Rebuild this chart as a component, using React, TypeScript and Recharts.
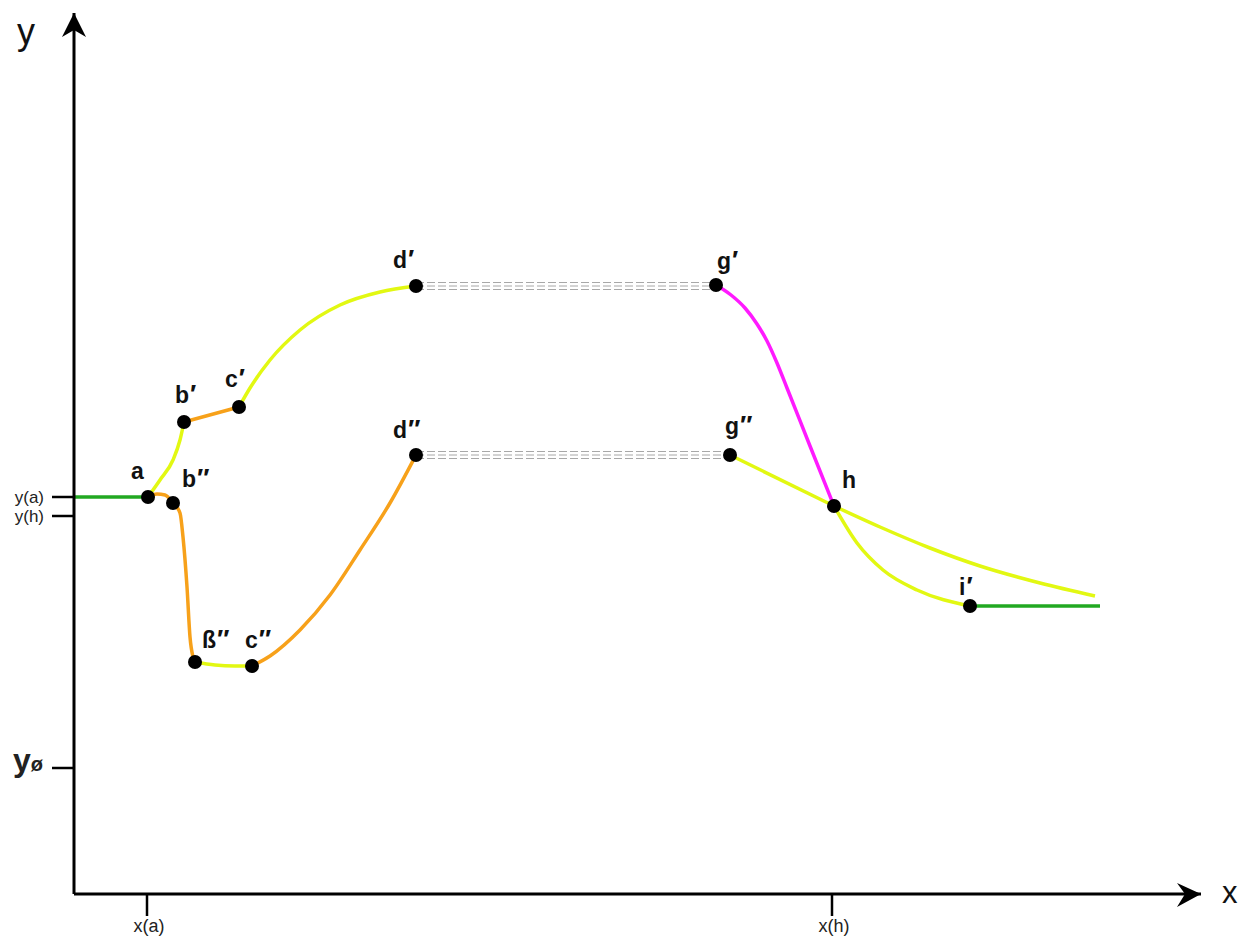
import { ComposedChart, Line, XAxis, YAxis, ReferenceDot } from 'recharts'

// Units are pixels of the drawing, origin just inside the corner of the two axes.
const xTicks = [72, 757]
const xTickLabels = ['x(a)', 'x(h)']
const yTicks = [125, 377, 396]
const yTickLabels = ['yø', 'y(h)', 'y(a)']

const greenStart = [{ x: 0, y: 396 }, { x: 73, y: 396 }]
const aToB1 = [{ x: 73, y: 396 }, { x: 85, y: 413 }, { x: 98, y: 433 }, { x: 105, y: 453 }, { x: 109, y: 471 }]
const b1ToC1 = [{ x: 109, y: 471 }, { x: 164, y: 486 }]
const c1ToD1 = [{ x: 164, y: 486 }, { x: 175, y: 505 }, { x: 195, y: 533 }, { x: 225, y: 563 }, { x: 265, y: 588 }, { x: 305, y: 601 }, { x: 341, y: 607 }]
const aToBeta2 = [
  { x: 73, y: 396 }, { x: 82, y: 399 }, { x: 90, y: 398 }, { x: 98, y: 390 }, { x: 105, y: 380 },
  { x: 108, y: 356 }, { x: 112, y: 306 }, { x: 115, y: 256 }, { x: 118, y: 236 }, { x: 120, y: 231 },
]
const beta2ToC2 = [{ x: 120, y: 231 }, { x: 140, y: 228 }, { x: 160, y: 227 }, { x: 177, y: 227 }]
const c2ToD2 = [{ x: 177, y: 227 }, { x: 195, y: 237 }, { x: 225, y: 263 }, { x: 255, y: 298 }, { x: 285, y: 343 }, { x: 315, y: 390 }, { x: 341, y: 438 }]
const plateauUpper = [
  [{ x: 341, y: 610.5 }, { x: 641, y: 610.5 }],
  [{ x: 341, y: 607 }, { x: 641, y: 607 }],
  [{ x: 341, y: 603.5 }, { x: 641, y: 603.5 }],
]
const plateauLower = [
  [{ x: 341, y: 441.5 }, { x: 655, y: 441.5 }],
  [{ x: 341, y: 438 }, { x: 655, y: 438 }],
  [{ x: 341, y: 434.5 }, { x: 655, y: 434.5 }],
]
const g1ToH = [
  { x: 641, y: 608 }, { x: 656, y: 598 }, { x: 670, y: 585 }, { x: 682, y: 569 }, { x: 692, y: 552 },
  { x: 702, y: 530 }, { x: 712, y: 505 }, { x: 735, y: 447 }, { x: 759, y: 387 },
]
const g2ToH = [{ x: 655, y: 438 }, { x: 759, y: 387 }]
const hTail = [{ x: 759, y: 387 }, { x: 805, y: 366 }, { x: 855, y: 345 }, { x: 905, y: 327 }, { x: 965, y: 310 }, { x: 1020, y: 297 }]
const hToI1 = [{ x: 759, y: 387 }, { x: 782, y: 350 }, { x: 808, y: 323 }, { x: 842, y: 303 }, { x: 895, y: 287 }]
const greenEnd = [{ x: 895, y: 287 }, { x: 1025, y: 287 }]

const points = [
  { name: 'a', mark: '', x: 73, y: 396 },
  { name: 'b', mark: '″', x: 98, y: 390 },
  { name: 'b', mark: '′', x: 109, y: 471 },
  { name: 'c', mark: '′', x: 164, y: 486 },
  { name: 'd', mark: '′', x: 341, y: 607 },
  { name: 'g', mark: '′', x: 641, y: 608 },
  { name: 'ß', mark: '″', x: 120, y: 231 },
  { name: 'c', mark: '″', x: 177, y: 227 },
  { name: 'd', mark: '″', x: 341, y: 438 },
  { name: 'g', mark: '″', x: 655, y: 438 },
  { name: 'h', mark: '', x: 759, y: 387 },
  { name: 'i', mark: '′', x: 895, y: 287 },
]

// label placement relative to the dot (text start, baseline)
const labelOffset: Record<string, [number, number]> = {
  'a': [-17, -18], 'b″': [9, -16], 'b′': [-9, -19], 'c′': [-14, -20],
  'd′': [-23, -18], 'g′': [1, -16], 'ß″': [7, -14], 'c″': [-7, -18],
  'd″': [-23, -17], 'g″': [-5, -21], 'h': [8, -18], 'i′': [-11, -11],
}

const YELLOW = '#e2f812'
const ORANGE = '#f7a11a'
const GREEN = '#22a822'
const MAGENTA = '#ff1aff'
const DASH = '#a8a8a8'

const segments: { data: { x: number; y: number }[]; color: string; curve: 'monotone' | 'linear' }[] = [
  { data: greenStart, color: GREEN, curve: 'linear' },
  { data: aToB1, color: YELLOW, curve: 'monotone' },
  { data: b1ToC1, color: ORANGE, curve: 'linear' },
  { data: c1ToD1, color: YELLOW, curve: 'monotone' },
  { data: aToBeta2, color: ORANGE, curve: 'monotone' },
  { data: beta2ToC2, color: YELLOW, curve: 'monotone' },
  { data: c2ToD2, color: ORANGE, curve: 'monotone' },
  { data: g1ToH, color: MAGENTA, curve: 'monotone' },
  { data: g2ToH, color: YELLOW, curve: 'linear' },
  { data: hTail, color: YELLOW, curve: 'monotone' },
  { data: hToI1, color: YELLOW, curve: 'monotone' },
  { data: greenEnd, color: GREEN, curve: 'linear' },
]

const FONT = '"Liberation Sans", Arial, sans-serif'

function XTick(props: any) {
  const { x, y, payload } = props
  const label = xTickLabels[xTicks.indexOf(payload.value)]
  return (
    <text x={x + 2} y={y + 16} textAnchor="middle" fontFamily={FONT} fontSize={18} fill="#222">
      {label}
    </text>
  )
}

function YTick(props: any) {
  const { x, y, payload } = props
  const label = yTickLabels[yTicks.indexOf(payload.value)]
  if (label === 'yø') {
    return (
      <text x={x - 9} y={y + 3} textAnchor="end" fontFamily={FONT} fontWeight="bold" fill="#222">
        <tspan fontSize={32}>y</tspan>
        <tspan fontSize={20}>ø</tspan>
      </text>
    )
  }
  return (
    <text x={x - 8} y={y + 6} textAnchor="end" fontFamily={FONT} fontSize={17} fill="#222">
      {label}
    </text>
  )
}

function Dot({ cx, cy, name, mark }: any) {
  const [dx, dy] = labelOffset[name + mark] ?? [0, -16]
  return (
    <g>
      <circle cx={cx} cy={cy} r={7} fill="#000" />
      <text x={cx + dx} y={cy + dy} fontFamily={FONT} fontWeight="bold" fontSize={23} fill="#111">
        {name}
        {mark && (
          <tspan dx={1} fontSize={26}>
            {mark}
          </tspan>
        )}
      </text>
    </g>
  )
}

export default function App() {
  return (
    <div style={{ position: 'absolute', left: 0, top: 0, width: 1241, height: 938, background: '#fff' }}>
      <ComposedChart width={1241} height={938} margin={{ top: 13, right: 40, bottom: 0, left: 14 }}>
        <XAxis
          type="number"
          dataKey="x"
          domain={[-1, 1126]}
          allowDataOverflow
          ticks={xTicks}
          interval={0}
          height={44}
          tickSize={22}
          tickMargin={0}
          axisLine={{ stroke: '#000', strokeWidth: 3 }}
          tickLine={{ stroke: '#000', strokeWidth: 2.5 }}
          tick={<XTick />}
        />
        <YAxis
          type="number"
          dataKey="y"
          domain={[-1, 880]}
          allowDataOverflow
          ticks={yTicks}
          interval={0}
          width={60}
          tickSize={22}
          tickMargin={0}
          axisLine={{ stroke: '#000', strokeWidth: 3 }}
          tickLine={{ stroke: '#000', strokeWidth: 2.5 }}
          tick={<YTick />}
        />
        {[...plateauUpper, ...plateauLower].map((d, i) => (
          <Line
            key={`p${i}`}
            data={d}
            dataKey="y"
            type="linear"
            stroke={DASH}
            strokeWidth={1}
            strokeDasharray="8 3"
            dot={false}
            activeDot={false}
            isAnimationActive={false}
          />
        ))}
        {segments.map((s, i) => (
          <Line
            key={`s${i}`}
            data={s.data}
            dataKey="y"
            type={s.curve}
            stroke={s.color}
            strokeWidth={3.5}
            dot={false}
            activeDot={false}
            isAnimationActive={false}
          />
        ))}
        <ReferenceDot
          x={1126}
          y={-1}
          r={1}
          ifOverflow="visible"
          shape={({ cx, cy }: any) => (
            <g>
              <path d={`M${cx} ${cy} L${cx - 24} ${cy - 11} L${cx - 16} ${cy} L${cx - 24} ${cy + 13} Z`} fill="#000" />
              <text x={cx + 21} y={cy + 9} fontFamily={FONT} fontSize={31} fill="#111">x</text>
            </g>
          )}
        />
        <ReferenceDot
          x={-1}
          y={880}
          r={1}
          ifOverflow="visible"
          shape={({ cx, cy }: any) => (
            <g>
              <path d={`M${cx} ${cy} L${cx - 12} ${cy + 24} L${cx} ${cy + 17} L${cx + 12} ${cy + 24} Z`} fill="#000" />
              <text x={cx - 57} y={cy + 31} fontFamily={FONT} fontSize={36} fill="#111">y</text>
            </g>
          )}
        />
        {points.map((p) => (
          <ReferenceDot
            key={p.name + p.mark}
            x={p.x}
            y={p.y}
            r={7}
            ifOverflow="visible"
            shape={(props: any) => <Dot {...props} name={p.name} mark={p.mark} />}
          />
        ))}
      </ComposedChart>
    </div>
  )
}
